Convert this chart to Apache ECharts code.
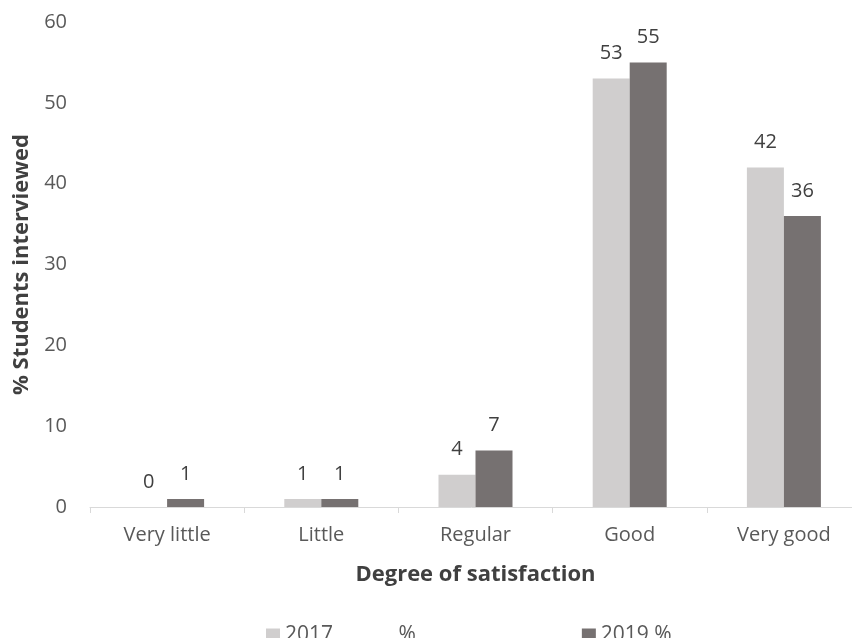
<!DOCTYPE html>
<html>
<head>
<meta charset="utf-8">
<script src="https://cdn.jsdelivr.net/npm/echarts@6/dist/echarts.min.js"></script>
<style>
  html, body { margin: 0; padding: 0; background: #fff; }
  #chart { width: 852px; height: 638px; }
</style>
</head>
<body>
<div id="chart"></div>
<script>
// Satisfaction levels on the horizontal axis
const categories = ['Very little', 'Little', 'Regular', 'Good', 'Very good'];
// Share of students interviewed (%) per year
const values2017 = [0, 1, 4, 53, 42];
const values2019 = [1, 1, 7, 55, 36];
const seriesNames = ['2017            %', '2019 %'];

const chart = echarts.init(document.getElementById('chart'));
const font = 'Open Sans';
const labelStyle = {
  show: true,
  position: 'top',
  distance: 15,
  color: '#404040',
  fontSize: 20,
  fontFamily: font
};

chart.setOption({
  animation: false,
  textStyle: { fontFamily: font },
  grid: { left: 90, right: -9, top: 22, bottom: 131, containLabel: false, outerBoundsMode: 'none' },
  legend: {
    left: 261,
    top: 620,
    itemWidth: 14,
    itemHeight: 14,
    itemGap: 166,
    itemStyle: { borderWidth: 0 },
    icon: 'rect',
    textStyle: { color: '#595959', fontSize: 21, fontFamily: font },
    data: seriesNames
  },
  xAxis: {
    type: 'category',
    data: categories,
    name: 'Degree of satisfaction',
    nameLocation: 'middle',
    nameGap: 57,
    nameTextStyle: { color: '#404040', fontSize: 22, fontWeight: 'bold', fontFamily: font },
    axisLine: { lineStyle: { color: '#d9d9d9', width: 1 } },
    axisTick: { show: true, length: 6, lineStyle: { color: '#d9d9d9' } },
    axisLabel: { color: '#595959', fontSize: 20, margin: 18, fontFamily: font }
  },
  yAxis: {
    type: 'value',
    min: 0,
    max: 60,
    interval: 10,
    name: '% Students interviewed',
    nameLocation: 'middle',
    nameGap: 55,
    nameTextStyle: { color: '#404040', fontSize: 22, fontWeight: 'bold', fontFamily: font },
    axisLine: { show: false },
    axisTick: { show: false },
    splitLine: { show: false },
    axisLabel: { color: '#595959', fontSize: 20, margin: 23, fontFamily: font }
  },
  series: [
    {
      name: seriesNames[0],
      type: 'bar',
      data: values2017,
      barWidth: 37,
      barGap: '0%',
      itemStyle: { color: '#d0cece' },
      label: labelStyle
    },
    {
      name: seriesNames[1],
      type: 'bar',
      data: values2019,
      barWidth: 37,
      barGap: '0%',
      itemStyle: { color: '#767171' },
      label: labelStyle
    }
  ]
});
</script>
</body>
</html>
